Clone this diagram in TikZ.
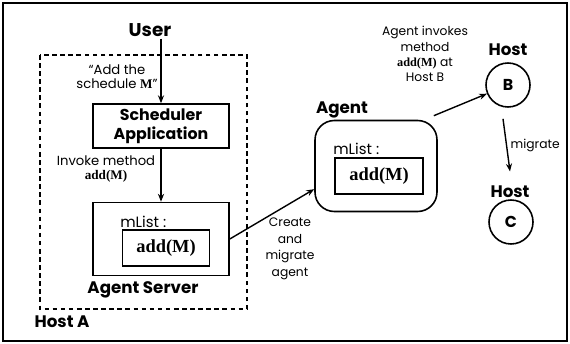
\documentclass[tikz,border=0pt]{standalone}
\usepackage{fontspec}
\setmainfont{Poppins}
\newfontfamily\codefont{Liberation Serif}
\usetikzlibrary{positioning, arrows.meta, calc}

\newcommand{\meth}[1]{{\codefont\bfseries #1}}

\tikzset{
    box/.style={draw, line width=0.9pt, inner sep=0pt},
    title/.style={font=\fontsize{9.5}{10}\selectfont\bfseries, inner sep=1pt},
    note/.style={font=\fontsize{7}{9.4}\selectfont, align=center, inner sep=1pt},
    host/.style={draw, circle, line width=0.9pt, minimum size=0.88cm, inner sep=0pt,
                 font=\fontsize{9}{10}\selectfont\bfseries},
    arr/.style={-{Stealth[length=4.5pt, width=3.5pt]}, line width=0.8pt}
}

\begin{document}
\begin{tikzpicture}[x=0.02cm, y=-0.02cm]
    \useasboundingbox (0,0) rectangle (570,344);
    % frame and host A
    \draw[line width=1pt] (3,3) rectangle (567,341);
    \draw[line width=0.9pt, dash pattern=on 2.6pt off 2pt] (40,55) rectangle (247,309);
    \node[title] (hostA) at (62,322) {Host A};

    % user and scheduler
    \node[title, font=\fontsize{10.5}{11}\selectfont\bfseries] (user) at (150,30) {User};
    \node[box, minimum width=2.72cm, minimum height=0.88cm, align=center,
          font=\fontsize{9}{11}\selectfont\bfseries] (sched) at (161,126) {Scheduler\\Application};
    \draw[arr] (user.south -| sched.north) -- (sched.north);
    \node[note, font=\fontsize{7.5}{8}\selectfont] (addnote) at (117,77) {``Add the\\schedule \meth{M}''};

    % agent server
    \node[box, minimum width=2.72cm, minimum height=1.46cm] (server) at (161,239) {};
    \node[anchor=west, font=\fontsize{8.5}{10}\selectfont, inner sep=0pt] (slist) at (120,222) {mList :};
    \node[box, minimum width=1.74cm, minimum height=0.72cm, font=\fontsize{10.5}{12}\selectfont] (sadd) at (166,248) {\meth{add(M)}};
    \node[title] (slabel) at (143,290) {Agent Server};
    \draw[arr] (sched.south) -- (server.north);
    \node[note, font=\fontsize{7.5}{8.2}\selectfont] (invnote) at (106,169) {Invoke method\\\meth{add(M)}};

    % agent
    \node[box, rounded corners=11pt, minimum width=2.44cm, minimum height=1.82cm] (agent) at (376,166) {};
    \node[title] (alabel) at (342,110) {Agent};
    \node[anchor=west, font=\fontsize{8.5}{10}\selectfont, inner sep=0pt] (alist) at (333,149) {mList :};
    \node[box, minimum width=1.76cm, minimum height=0.72cm, font=\fontsize{10.5}{12}\selectfont] (aadd) at (379,176) {\meth{add(M)}};
    \coordinate (ain) at ($(agent.west)!0.5!(agent.south west)$);
    \draw[arr] (server.east) -- (ain);
    \node[note] (create) at (290,249) {Create\\and\\migrate\\agent};

    % hosts B and C
    \node[title] (labB) at (508,50) {Host};
    \node[host] (hostB) at (508,85) {B};
    \node[title] (labC) at (510,192) {Host};
    \node[host] (hostC) at (511,222) {C};
    \draw[arr] ([shift={(-4,-4)}]agent.north east) -- (hostB);
    \draw[arr] ([shift={(-5,11)}]hostB.south) -- ([yshift=0.25cm]labC.north)
        node[midway, right, note, xshift=1pt] {migrate};
    \node[note, font=\fontsize{7}{8.6}\selectfont] (invB) at (425,54) {Agent invokes\\method\\\meth{add(M)} at\\Host B};
\end{tikzpicture}
\end{document}
